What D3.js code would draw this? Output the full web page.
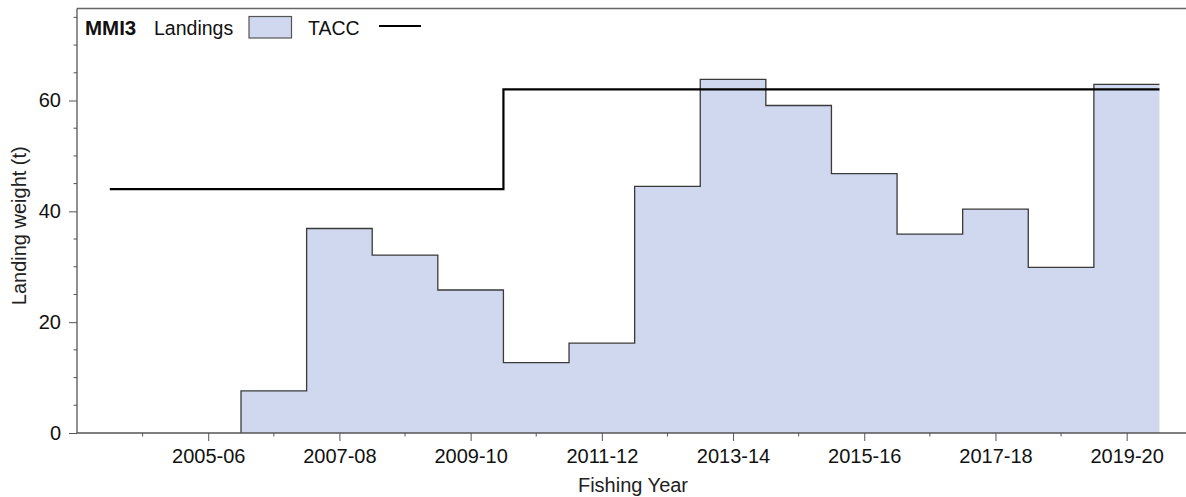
<!DOCTYPE html>
<html>
<head>
<meta charset="utf-8">
<script src="https://cdn.jsdelivr.net/npm/d3@7"></script>
<style>
  body { margin: 0; background: #fff; }
  svg { display: block; font-family: "Liberation Sans", Arial, sans-serif; }
</style>
</head>
<body>
<svg id="chart" width="1186" height="497"></svg>
<script>
// Fishing years are keyed by their starting calendar year (2006 -> "2006-07").
const landingYears = [2006, 2007, 2008, 2009, 2010, 2011, 2012, 2013, 2014, 2015, 2016, 2017, 2018, 2019];
const landings     = [7.6, 36.9, 32.1, 25.8, 12.7, 16.2, 44.5, 63.8, 59.1, 46.8, 35.9, 40.4, 29.9, 62.9];

const taccYears = [2004, 2005, 2006, 2007, 2008, 2009, 2010, 2011, 2012, 2013, 2014, 2015, 2016, 2017, 2018, 2019];
const tacc      = [44, 44, 44, 44, 44, 44, 62, 62, 62, 62, 62, 62, 62, 62, 62, 62];

const majorTickYears = [2005, 2007, 2009, 2011, 2013, 2015, 2017, 2019];
const majorTickLabels = ["2005-06", "2007-08", "2009-10", "2011-12", "2013-14", "2015-16", "2017-18", "2019-20"];
const minorTickYears = [2004, 2006, 2008, 2010, 2012, 2014, 2016, 2018];
const yMajorTicks = [0, 20, 40, 60];
const yMinorTicks = [5, 10, 15, 25, 30, 35, 45, 50, 55, 65, 70, 75];

const stock = "MMI3";
const fillColor = "rgb(208,216,240)";

const svg = d3.select("#chart");
const plot = { left: 77, right: 1189, top: 8.5, bottom: 433 };

const x = d3.scaleLinear().domain([2003, 2019.95]).range([plot.left, plot.right]);
const y = d3.scaleLinear().domain([0, 76.6]).range([plot.bottom, plot.top]);
const half = 0.5;

// Step series: each fishing year spans half a year either side of its tick.
function stepPoints(years, values, startAtZero) {
  const pts = [];
  if (startAtZero) pts.push([years[0] - half, 0]);
  years.forEach((yr, i) => pts.push([yr - half, values[i]]));
  pts.push([years[years.length - 1] + half, values[values.length - 1]]);
  return pts;
}

const landPts = stepPoints(landingYears, landings, true);
const area = d3.area()
  .x(d => x(d[0])).y0(y(0)).y1(d => y(d[1]))
  .curve(d3.curveStepAfter);
const line = d3.line()
  .x(d => x(d[0])).y(d => y(d[1]))
  .curve(d3.curveStepAfter);

svg.append("path")
  .attr("d", area(landPts))
  .attr("fill", fillColor);

svg.append("path")
  .attr("d", line(landPts))
  .attr("fill", "none")
  .attr("stroke", "#3a3a3a")
  .attr("stroke-width", 1.3);

svg.append("path")
  .attr("d", line(stepPoints(taccYears, tacc, false)))
  .attr("fill", "none")
  .attr("stroke", "#000")
  .attr("stroke-width", 2.2);

// Frame: top border and the two axes
svg.append("line")
  .attr("x1", plot.left).attr("x2", plot.right)
  .attr("y1", plot.top).attr("y2", plot.top)
  .attr("stroke", "#666").attr("stroke-width", 1.5);

const axisColor = "#555";
const xAxis = svg.append("g").attr("transform", `translate(0,${plot.bottom})`);
xAxis.call(d3.axisBottom(x)
  .tickValues(majorTickYears)
  .tickFormat((d, i) => majorTickLabels[i])
  .tickSize(8).tickPadding(8).tickSizeOuter(0));
xAxis.selectAll(".minor")
  .data(minorTickYears).enter().append("line")
  .attr("x1", d => x(d)).attr("x2", d => x(d))
  .attr("y1", 0).attr("y2", 3.5)
  .attr("stroke", axisColor);

const yAxis = svg.append("g").attr("transform", `translate(${plot.left},0)`);
yAxis.call(d3.axisLeft(y)
  .tickValues(yMajorTicks)
  .tickSize(8).tickPadding(8).tickSizeOuter(0));
yAxis.selectAll(".minor")
  .data(yMinorTicks).enter().append("line")
  .attr("x1", -3.5).attr("x2", 0)
  .attr("y1", d => y(d)).attr("y2", d => y(d))
  .attr("stroke", axisColor);

[xAxis, yAxis].forEach(g => {
  g.select(".domain").attr("stroke", axisColor).attr("stroke-width", 1.3);
  g.selectAll(".tick line").attr("stroke", axisColor);
  g.selectAll(".tick text")
    .attr("font-family", "Liberation Sans, Arial, sans-serif")
    .attr("font-size", 20).attr("fill", "#111");
});
yAxis.select(".domain").attr("d", `M0,${plot.bottom}V${plot.top}`);
xAxis.select(".domain").attr("d", `M${plot.left},0H${plot.right}`);

// Axis titles
svg.append("text")
  .attr("x", (plot.left + plot.right) / 2).attr("y", 492)
  .attr("text-anchor", "middle")
  .attr("font-size", 20).attr("fill", "#222")
  .text("Fishing Year");

svg.append("text")
  .attr("transform", `translate(26,${(plot.top + plot.bottom) / 2 + 5}) rotate(-90)`)
  .attr("text-anchor", "middle")
  .attr("font-size", 20).attr("fill", "#222")
  .text("Landing weight (t)");

// Legend
const legend = svg.append("g");
legend.append("text")
  .attr("x", 85).attr("y", 35)
  .attr("font-size", 20.5).attr("font-weight", "bold").attr("fill", "#111")
  .text(stock);
legend.append("text")
  .attr("x", 154).attr("y", 35)
  .attr("font-size", 19.5).attr("fill", "#111")
  .text("Landings");
legend.append("rect")
  .attr("x", 249).attr("y", 16.5).attr("width", 42.5).attr("height", 21.5)
  .attr("fill", fillColor).attr("stroke", "#555").attr("stroke-width", 1.2);
legend.append("text")
  .attr("x", 308).attr("y", 35)
  .attr("font-size", 19.5).attr("fill", "#111")
  .text("TACC");
legend.append("line")
  .attr("x1", 379).attr("x2", 421).attr("y1", 26).attr("y2", 26)
  .attr("stroke", "#000").attr("stroke-width", 2);
</script>
</body>
</html>
